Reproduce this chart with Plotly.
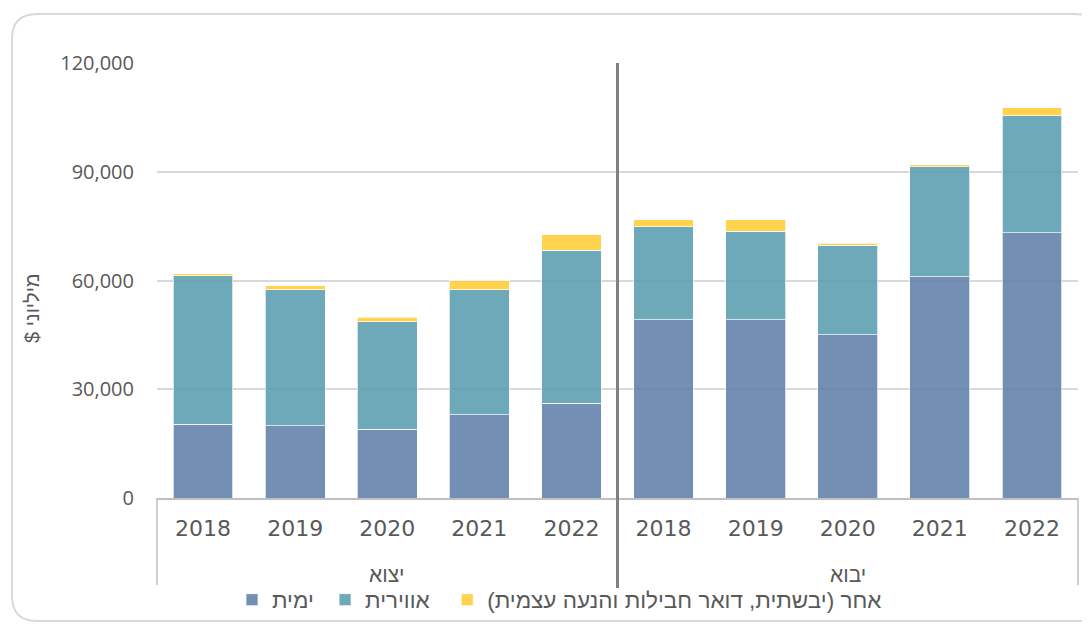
import plotly.graph_objects as go

group_names = ["יצוא", "יבוא"]
years = ["2018", "2019", "2020", "2021", "2022"]
categories = [f"{g} {y}" for g in group_names for y in years]
year_labels = years * 2

# millions of $
marine = [20400, 19900, 18900, 23000, 26200, 49200, 49200, 45100, 61000, 73200]
air = [40900, 37600, 29700, 34500, 42100, 25600, 24400, 24600, 30400, 32300]
other = [500, 1000, 1200, 2500, 4300, 1900, 3100, 600, 600, 2200]

RLM = "\u200f"
NB = "\u00a0"
series_names = ["ימית", "אווירית", "אחר (יבשתית, דואר חבילות והנעה עצמית)"]
legend_labels = [series_names[0] + NB,
                 series_names[1] + NB * 2,
                 RLM + series_names[2] + RLM]
series_colors = ["rgba(90,124,167,0.85)", "rgba(83,154,171,0.85)", "rgba(255,203,47,0.85)"]
y_title = "מיליוני $" + RLM

fig = go.Figure()
for name, vals, col in zip(legend_labels, [marine, air, other], series_colors):
    fig.add_trace(go.Bar(
        x=categories, y=vals, name=name,
        marker=dict(color=col, line=dict(color="rgba(255,255,255,0.7)", width=1)),
    ))

# page body has an 8px margin: figure drawn at (8,8)
OFF = 8
FW, FH = 1090 - OFF, 624 - OFF
# plot area in screenshot pixels
L, R, T, B = 157, 1078, 63, 498
W, H = R - L, B - T
px = lambda v: (v - L) / W
py = lambda v: (B - v) / H

shapes = []
x0, x1, y0, y1 = px(12), px(1100), py(14), py(621)
rx, ry = 25 / W, 25 / H
path = (f"M{x0},{y1+ry} L{x0},{y0-ry} Q{x0},{y0} {x0+rx},{y0} L{x1-rx},{y0} Q{x1},{y0} {x1},{y0-ry} "
        f"L{x1},{y1+ry} Q{x1},{y1} {x1-rx},{y1} L{x0+rx},{y1} Q{x0},{y1} {x0},{y1+ry} Z")
shapes.append(dict(type="path", xref="paper", yref="paper", path=path,
                   line=dict(color="#d9d9d9", width=2), fillcolor="rgba(0,0,0,0)", layer="below"))
shapes.append(dict(type="line", xref="paper", yref="paper", x0=0.5, x1=0.5, y0=py(588), y1=1,
                   line=dict(color="#808080", width=3)))
for xx in (0, 1):
    shapes.append(dict(type="line", xref="paper", yref="paper", x0=xx, x1=xx, y0=py(585), y1=0,
                       line=dict(color="#bfbfbf", width=1.5)))

annotations = [dict(text=y_title, textangle=-90, xref="paper", yref="paper",
                    x=px(32), y=py(308), xanchor="center", yanchor="middle", showarrow=False,
                    font=dict(size=20, color="#595959"))]
for i, g in enumerate(group_names):
    annotations.append(dict(text=g, xref="paper", yref="paper", x=0.25 + 0.5 * i, y=py(574),
                            xanchor="center", yanchor="middle", showarrow=False,
                            font=dict(size=21, color="#595959")))

fig.update_layout(
    barmode="stack",
    bargap=0.35,
    width=FW, height=FH,
    margin=dict(l=L - OFF, r=1090 - R, t=T - OFF, b=624 - B, autoexpand=False),
    paper_bgcolor="white", plot_bgcolor="white",
    font=dict(family="Liberation Sans, Arial, sans-serif", color="#595959"),
    showlegend=True,
    legend=dict(orientation="h", x=px(232), xanchor="left", y=py(600), yanchor="middle",
                font=dict(size=22.5, color="#595959"), traceorder="normal",
                bgcolor="rgba(0,0,0,0)"),
    shapes=shapes,
    annotations=annotations,
    xaxis=dict(type="category", tickvals=categories, ticktext=year_labels,
               showline=True, linecolor="#bfbfbf", linewidth=1.5, automargin=False,
               tickfont=dict(family="DejaVu Sans", size=22, color="#595959"),
               ticks="outside", ticklen=10, tickcolor="rgba(0,0,0,0)"),
    yaxis=dict(range=[0, 120000], tickvals=[0, 30000, 60000, 90000, 120000], tickformat=",",
               showgrid=True, gridcolor="#d9d9d9", gridwidth=1.5, zeroline=False, automargin=False,
               tickfont=dict(family="Open Sans", size=20, color="#595959"), ticklabelstandoff=22),
)

fig.write_html("out.html")
